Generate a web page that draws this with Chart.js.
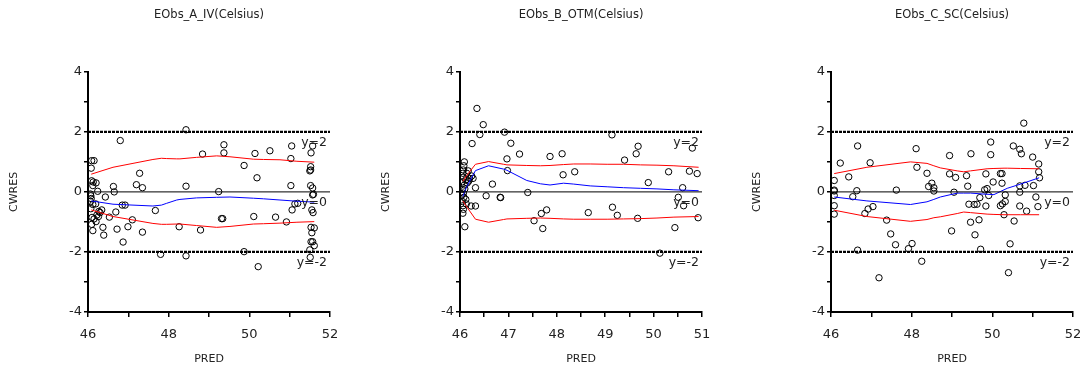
<!DOCTYPE html>
<html>
<head>
<meta charset="utf-8">
<script src="https://cdn.jsdelivr.net/npm/chart.js@4/dist/chart.umd.min.js"></script>
<style>
html,body{margin:0;padding:0;background:#fff;width:1083px;height:373px;overflow:hidden;}
canvas{position:absolute;top:0;}
</style>
</head>
<body>
<canvas id="c1" width="354" height="373" style="left:0px"></canvas>
<canvas id="c2" width="354" height="373" style="left:372px"></canvas>
<canvas id="c3" width="354" height="373" style="left:743px"></canvas>
<script>
// ---------- titles ----------
const panelTitles = ["EObs_A_IV(Celsius)", "EObs_B_OTM(Celsius)", "EObs_C_SC(Celsius)"];
const xAxisTitle = "PRED";
const yAxisTitle = "CWRES";
const refLabels = ["y=2", "y=0", "y=-2"];
const refValues = [2, 0, -2];

// ---------- panel A ----------
const predA = [46.80,46.09,46.15,46.08,47.28,46.09,46.13,46.20,47.20,47.35,46.12,46.24,46.63,46.65,46.06,46.07,46.08,46.06,46.43,46.12,46.19,46.85,46.92,47.67,46.07,46.34,46.30,46.22,46.26,46.69,46.53,46.09,46.12,46.20,46.37,46.39,46.72,46.99,47.10,47.35,46.87,47.80,46.10,46.15,46.27,
  48.43,48.43,48.43,48.26,48.84,48.79,49.37,49.37,49.24,49.31,49.34,49.87,49.87,50.14,50.19,50.11,50.22,50.51,50.65,50.92,51.05,51.03,51.03,51.06,51.13,51.20,
  51.57,51.53,51.52,51.52,51.50,51.52,51.57,51.59,51.57,51.55,51.58,51.53,51.61,51.55,51.53,51.57,51.61,51.50,51.51];
const cwresA = [1.71,1.04,1.04,0.79,0.62,0.37,0.33,0.30,0.24,0.14,0.21,0.02,0.18,0.00,-0.07,-0.13,-0.22,-0.32,-0.17,-0.42,-0.40,-0.44,-0.44,-0.62,-0.56,-0.60,-0.69,-0.77,-0.82,-0.67,-0.84,-1.08,-1.29,-0.99,-1.18,-1.44,-1.24,-1.16,-0.93,-1.34,-1.67,-2.08,-0.85,-0.90,-0.65,
  2.07,0.19,-2.13,-1.16,1.26,-1.27,1.57,1.30,0.01,-0.89,-0.89,0.88,-1.99,1.28,0.47,-0.82,-2.49,1.37,-0.84,-1.00,1.53,1.11,0.21,-0.60,-0.40,-0.38,
  1.53,1.30,0.84,0.73,0.70,0.21,0.13,-0.08,-0.10,-0.60,-0.69,-1.18,-1.20,-1.36,-1.66,-1.66,-1.79,-1.93,-2.18];
const loessXA = [46.08,46.62,47.61,47.82,47.95,48.20,48.28,48.69,49.19,49.52,50.10,50.35,50.76,51.18,51.61];
const upperA  = [0.59,0.82,1.08,1.12,1.11,1.10,1.10,1.15,1.20,1.17,1.09,1.08,1.07,1.02,0.99];
const lowerA  = [-0.60,-0.82,-1.05,-1.08,-1.08,-1.07,-1.07,-1.12,-1.18,-1.15,-1.07,-1.06,-1.04,-1.01,-0.99];
const middleA = [-0.30,-0.41,-0.47,-0.44,-0.38,-0.27,-0.25,-0.20,-0.18,-0.17,-0.21,-0.23,-0.27,-0.31,-0.34];

// ---------- panel B ----------
const predB = [46.35,46.48,46.41,46.25,46.92,47.05,46.97,46.98,47.23,46.67,46.32,46.54,46.83,46.84,47.40,47.86,48.11,48.13,48.37,47.53,47.68,47.79,47.71,48.65,49.14,49.15,49.25,49.40,49.64,49.68,49.67,49.89,50.13,50.31,50.44,50.51,50.62,50.60,50.74,50.80,50.90,50.92,
  46.09,46.08,46.07,46.06,46.07,46.05,46.09,46.05,46.07,46.08,46.05,46.06,46.07,46.06,46.10,46.14,46.17,46.20,46.24,46.12,46.15,46.23,46.32,46.12,46.10,46.13,46.04,46.18,46.27];
const cwresB = [2.78,2.24,1.91,1.61,1.99,1.62,1.10,0.71,1.26,0.26,0.14,-0.13,-0.18,-0.19,-0.02,1.18,1.27,0.57,0.67,-0.96,-0.72,-0.60,-1.22,-0.69,1.90,-0.51,-0.78,1.06,1.27,1.52,-0.88,0.31,-2.04,0.67,-1.19,-0.18,-0.46,0.14,0.69,1.46,0.61,-0.86,
  1.00,0.87,0.73,0.62,0.49,0.34,0.23,0.09,-0.04,-0.18,-0.32,-0.46,-0.58,-0.71,-1.16,0.62,0.70,0.45,0.53,0.40,0.30,-0.47,-0.47,-0.25,0.10,-0.40,-0.10,0.36,0.45];
const loessXB = [46.06,46.14,46.32,46.59,46.90,46.97,47.38,47.66,47.86,48.14,48.35,48.69,49.04,49.38,49.73,50.07,50.42,50.93];
const upperB  = [0.35,0.55,0.92,1.01,0.92,0.90,0.88,0.87,0.88,0.91,0.93,0.93,0.92,0.92,0.90,0.89,0.87,0.82];
const lowerB  = [-0.30,-0.50,-0.91,-1.01,-0.92,-0.90,-0.88,-0.87,-0.88,-0.90,-0.91,-0.91,-0.91,-0.90,-0.89,-0.87,-0.84,-0.82];
const middleB = [-0.15,0.18,0.71,0.87,0.76,0.72,0.38,0.27,0.23,0.29,0.26,0.20,0.17,0.14,0.12,0.10,0.07,0.04];

// ---------- panel C ----------
const predC = [46.08,46.08,46.08,46.08,46.08,46.08,46.23,46.44,46.54,46.66,46.64,46.66,46.84,46.92,47.04,46.97,47.19,47.38,47.48,47.60,47.62,47.92,48.01,48.11,48.13,48.25,48.38,48.42,48.50,48.55,48.55,
  48.94,48.94,48.99,49.09,49.05,49.36,49.39,49.47,49.42,49.46,49.57,49.62,49.55,49.69,49.67,49.71,49.84,49.84,49.81,49.87,49.91,49.96,49.96,50.02,50.20,50.24,50.24,50.20,50.25,50.32,50.32,50.29,50.44,50.40,
  50.52,50.54,50.68,50.72,50.68,50.81,50.68,50.68,50.85,50.78,51.00,51.02,51.08,51.15,51.15,51.17,51.13];
const cwresC = [0.38,0.06,0.03,-0.12,-0.46,-0.74,0.96,0.50,-0.16,1.53,0.04,-1.94,-0.72,-0.57,-0.49,0.97,-2.86,-0.94,-1.40,-1.76,0.06,-1.89,-1.72,1.44,0.82,-2.31,0.62,0.18,0.29,0.14,0.03,
  1.21,0.60,-1.30,0.48,-0.01,0.54,0.19,1.27,-0.41,-1.01,-1.43,-0.41,-0.42,-0.19,-0.93,-1.91,-0.47,0.60,0.07,0.11,-0.12,1.66,1.24,0.33,0.61,0.61,0.29,-0.46,-0.40,-0.10,-0.32,-0.76,-1.73,-2.69,
  1.53,-0.97,1.42,1.27,0.20,0.22,-0.01,-0.47,-0.64,2.29,1.16,0.21,-0.17,0.93,0.67,0.47,-0.49];
const loessXC = [46.08,46.89,47.97,48.38,48.55,48.71,49.13,49.29,49.46,49.87,50.04,50.29,50.37,50.70,51.16];
const upperC  = [0.61,0.82,1.00,0.95,0.87,0.80,0.70,0.67,0.70,0.77,0.78,0.79,0.79,0.78,0.77];
const lowerC  = [-0.61,-0.82,-0.98,-0.92,-0.86,-0.83,-0.72,-0.67,-0.69,-0.74,-0.75,-0.76,-0.76,-0.76,-0.76];
const middleC = [-0.17,-0.30,-0.42,-0.33,-0.25,-0.17,-0.04,-0.04,-0.04,-0.08,-0.09,0.07,0.12,0.26,0.47];

// ---------- axes ----------
const xRangeA = [46, 52], xRangeB = [46, 51], xRangeC = [46, 52];
const xStepA = 1, xStepB = 0.5, xStepC = 1;
const xLabelStepA = 2, xLabelStepB = 1, xLabelStepC = 2;
const yRange = [-4, 4];
const yStep = 1, yLabelStep = 2;

const FONT = "'DejaVu Sans', Verdana, sans-serif";

function zip(xs, ys) { return xs.map((x, i) => ({x: x, y: ys[i]})); }

const refLabelPlugin = {
  id: 'refLabels',
  afterDatasetsDraw(chart) {
    const {ctx, chartArea, scales} = chart;
    ctx.save();
    ctx.font = "12.5px " + FONT;
    ctx.fillStyle = '#222';
    ctx.textAlign = 'right';
    ctx.textBaseline = 'middle';
    refValues.forEach((v, i) => {
      const y = scales.y.getPixelForValue(v);
      ctx.fillText(refLabels[i], chartArea.right - 3, y + 11);
    });
    ctx.restore();
  }
};

function makeChart(id, title, pred, cwres, lx, up, lo, mid, xr, xs, xls) {
  const refLine = (v, dash, w) => ({
    data: [{x: xr[0], y: v}, {x: xr[1], y: v}],
    showLine: true, pointRadius: 0, borderColor: '#000', borderWidth: w,
    borderDash: dash, fill: false
  });
  new Chart(document.getElementById(id), {
    type: 'scatter',
    data: {
      datasets: [
        refLine(2, [3, 1], 2.2),
        refLine(-2, [3, 1], 2.2),
        refLine(0, [], 1),
        { data: zip(lx, up), showLine: true, pointRadius: 0, borderColor: '#ff0000', borderWidth: 1, tension: 0 },
        { data: zip(lx, lo), showLine: true, pointRadius: 0, borderColor: '#ff0000', borderWidth: 1, tension: 0 },
        { data: zip(lx, mid), showLine: true, pointRadius: 0, borderColor: '#0000ff', borderWidth: 1, tension: 0 },
        { data: zip(pred, cwres), showLine: false, pointRadius: 3.2, pointBorderWidth: 1,
          pointBorderColor: '#000', pointBackgroundColor: 'rgba(0,0,0,0)', borderColor: '#000', backgroundColor: 'rgba(0,0,0,0)' }
      ]
    },
    options: {
      responsive: false,
      animation: false,
      events: [],
      layout: { padding: { top: 0, left: 0, right: 24, bottom: 0 } },
      plugins: {
        legend: { display: false },
        tooltip: { enabled: false },
        title: {
          display: true, text: title, fullSize: false,
          color: '#222', font: { family: FONT, size: 11.5, weight: 'normal' },
          padding: { top: 8, bottom: 50 }
        }
      },
      scales: {
        x: {
          type: 'linear', min: xr[0], max: xr[1],
          afterFit: s => { s.height = 61; },
          border: { display: true, color: '#000', width: 2 },
          grid: { drawOnChartArea: false, drawTicks: true, tickLength: 5, color: '#000', lineWidth: 1.5 },
          ticks: {
            stepSize: xs, autoSkip: false, maxRotation: 0, padding: 10, color: '#222',
            font: { family: FONT, size: 13 },
            callback: v => (Math.abs(v / xls - Math.round(v / xls)) < 1e-6 ? String(v) : '')
          },
          title: { display: true, text: xAxisTitle, color: '#222', font: { family: FONT, size: 11 }, padding: { top: 0, bottom: 7 } }
        },
        y: {
          type: 'linear', min: yRange[0], max: yRange[1],
          afterFit: s => { s.width = 88; },
          border: { display: true, color: '#000', width: 2 },
          grid: { drawOnChartArea: false, drawTicks: true, tickLength: 4, color: '#000', lineWidth: 1.5 },
          ticks: {
            stepSize: yStep, autoSkip: false, padding: 2, color: '#222',
            font: { family: FONT, size: 13 },
            callback: v => (v % yLabelStep === 0 ? String(v) : '')
          },
          title: { display: true, text: yAxisTitle, color: '#222', font: { family: FONT, size: 11 }, padding: { top: 7.4, bottom: 0 } }
        }
      }
    },
    plugins: [refLabelPlugin]
  });
}

makeChart('c1', panelTitles[0], predA, cwresA, loessXA, upperA, lowerA, middleA, xRangeA, xStepA, xLabelStepA);
makeChart('c2', panelTitles[1], predB, cwresB, loessXB, upperB, lowerB, middleB, xRangeB, xStepB, xLabelStepB);
makeChart('c3', panelTitles[2], predC, cwresC, loessXC, upperC, lowerC, middleC, xRangeC, xStepC, xLabelStepC);
</script>
</body>
</html>
